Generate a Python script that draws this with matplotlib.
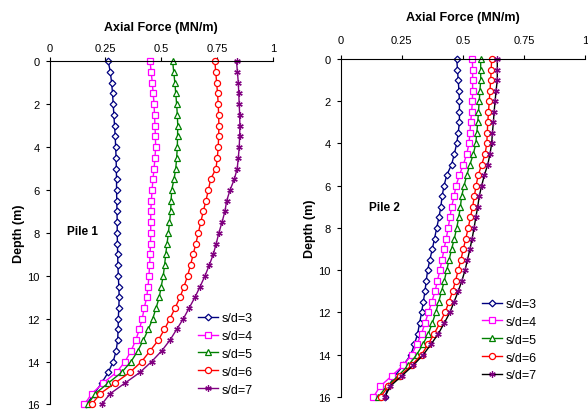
import matplotlib.pyplot as plt
import numpy as np

plt.rcParams['font.family'] = ['Liberation Sans', 'DejaVu Sans']

depth = np.arange(0, 16.01, 0.5)
labels = ["s/d=3", "s/d=4", "s/d=5", "s/d=6", "s/d=7"]

# pile 1
p1_sd3 = [0.263, 0.272, 0.278, 0.282, 0.285, 0.288, 0.291, 0.294, 0.296, 0.298, 0.299, 0.300, 0.300,
          0.301, 0.302, 0.303, 0.303, 0.304, 0.305, 0.306, 0.308, 0.310, 0.312, 0.310, 0.308, 0.307,
          0.305, 0.298, 0.285, 0.263, 0.233, 0.200, 0.165]
p1_sd4 = [0.450, 0.455, 0.460, 0.464, 0.468, 0.470, 0.472, 0.474, 0.475, 0.472, 0.468, 0.463, 0.459,
          0.456, 0.453, 0.453, 0.453, 0.452, 0.450, 0.448, 0.445, 0.441, 0.435, 0.424, 0.415, 0.402,
          0.386, 0.365, 0.338, 0.300, 0.240, 0.189, 0.156]
p1_sd5 = [0.551, 0.556, 0.561, 0.565, 0.569, 0.572, 0.574, 0.573, 0.572, 0.569, 0.565, 0.557, 0.547,
          0.544, 0.542, 0.537, 0.532, 0.526, 0.520, 0.515, 0.509, 0.500, 0.491, 0.477, 0.462, 0.442,
          0.420, 0.395, 0.365, 0.323, 0.263, 0.204, 0.171]
p1_sd6 = [0.740, 0.744, 0.748, 0.752, 0.755, 0.757, 0.758, 0.757, 0.755, 0.751, 0.745, 0.721, 0.711,
          0.700, 0.688, 0.677, 0.666, 0.655, 0.643, 0.631, 0.618, 0.602, 0.584, 0.562, 0.539, 0.514,
          0.487, 0.450, 0.412, 0.360, 0.293, 0.226, 0.189]
p1_sd7 = [0.837, 0.841, 0.845, 0.847, 0.849, 0.851, 0.852, 0.851, 0.849, 0.845, 0.840, 0.827, 0.808,
          0.793, 0.785, 0.772, 0.758, 0.746, 0.733, 0.715, 0.696, 0.674, 0.651, 0.625, 0.599, 0.569,
          0.539, 0.502, 0.457, 0.405, 0.338, 0.271, 0.233]

# pile 2
p2_sd3 = [0.475, 0.478, 0.481, 0.484, 0.486, 0.486, 0.486, 0.481, 0.475, 0.465, 0.454, 0.434, 0.423,
          0.415, 0.410, 0.402, 0.393, 0.384, 0.375, 0.365, 0.356, 0.350, 0.345, 0.338, 0.331, 0.323,
          0.315, 0.302, 0.287, 0.256, 0.222, 0.195, 0.181]
p2_sd4 = [0.539, 0.540, 0.540, 0.540, 0.539, 0.536, 0.532, 0.529, 0.525, 0.516, 0.502, 0.486, 0.472,
          0.464, 0.454, 0.447, 0.440, 0.432, 0.423, 0.415, 0.406, 0.396, 0.386, 0.373, 0.359, 0.345,
          0.331, 0.312, 0.290, 0.256, 0.209, 0.161, 0.134]
p2_sd5 = [0.573, 0.573, 0.573, 0.570, 0.567, 0.564, 0.561, 0.557, 0.553, 0.543, 0.529, 0.516, 0.505,
          0.495, 0.490, 0.483, 0.475, 0.465, 0.454, 0.444, 0.434, 0.424, 0.413, 0.401, 0.389, 0.375,
          0.359, 0.337, 0.311, 0.277, 0.236, 0.188, 0.154]
p2_sd6 = [0.618, 0.616, 0.614, 0.611, 0.608, 0.605, 0.602, 0.600, 0.598, 0.591, 0.577, 0.563, 0.554,
          0.547, 0.540, 0.531, 0.522, 0.512, 0.502, 0.492, 0.481, 0.470, 0.458, 0.443, 0.427, 0.406,
          0.383, 0.358, 0.331, 0.290, 0.243, 0.195, 0.163]
p2_sd7 = [0.641, 0.641, 0.641, 0.636, 0.632, 0.628, 0.625, 0.621, 0.618, 0.611, 0.602, 0.588, 0.577,
          0.567, 0.561, 0.553, 0.546, 0.538, 0.529, 0.519, 0.509, 0.496, 0.481, 0.464, 0.447, 0.424,
          0.400, 0.370, 0.338, 0.297, 0.250, 0.202, 0.181]

colors = ["#000080", "#FF00FF", "#008000", "#FF0000", "#800080"]
markers = ["D", "s", "^", "o", (6, 2, 0)]
msizes = [3.4, 4.4, 4.4, 4.4, 4.6]

fig = plt.figure(figsize=(5.88, 4.10), dpi=100)
ax1 = fig.add_axes([0.0842, 0.011, 0.380, 0.837])
ax2 = fig.add_axes([0.5794, 0.0293, 0.4155, 0.8244])


def draw(ax, series, pile, txt_xy, leg_xy, last_line, tpad, lpad):
    for i, vals in enumerate(series):
        lc = colors[i]
        if i == 4:
            lc = last_line
        ax.plot(vals, depth, color=lc, lw=1.0, marker=markers[i], ms=msizes[i],
                mfc="white" if i < 4 else colors[i], mec=colors[i], mew=0.9,
                label=labels[i], clip_on=False)
    ax.set_xlim(0, 1)
    ax.set_ylim(16, 0)
    ax.xaxis.tick_top()
    ax.xaxis.set_label_position("top")
    ax.set_xticks([0, 0.25, 0.5, 0.75, 1])
    ax.set_xticklabels(["0", "0.25", "0.5", "0.75", "1"])
    ax.set_yticks(np.arange(0, 17, 2))
    ax.tick_params(labelsize=8, length=3, width=0.8, direction="out", pad=4)
    ax.tick_params(axis="x", pad=tpad)
    ax.spines["right"].set_visible(False)
    ax.spines["bottom"].set_visible(False)
    ax.set_xlabel("Axial Force (MN/m)", fontsize=9, fontweight="bold", labelpad=lpad)
    ax.set_ylabel("Depth (m)", fontsize=9, fontweight="bold", labelpad=2)
    ax.text(txt_xy[0], txt_xy[1], pile, fontsize=8.5, fontweight="bold", va="center")
    ax.legend(loc="upper left", bbox_to_anchor=leg_xy, frameon=False, fontsize=9,
              handlelength=1.6, handletextpad=0.3, labelspacing=0.47, borderaxespad=0)


draw(ax1, [p1_sd3, p1_sd4, p1_sd5, p1_sd6, p1_sd7], "Pile 1", (0.078, 7.9), (0.642, 0.284),
     colors[4], 3, 9)
draw(ax2, [p2_sd3, p2_sd4, p2_sd5, p2_sd6, p2_sd7], "Pile 2", (0.116, 7.0), (0.558, 0.308),
     "black", 7, 11)

fig.savefig("out.png", dpi=100)
